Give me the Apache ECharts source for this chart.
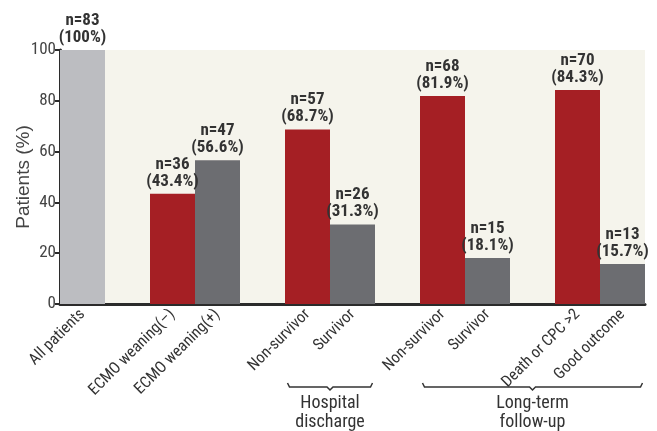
<!DOCTYPE html>
<html>
<head>
<meta charset="utf-8">
<script src="https://cdn.jsdelivr.net/npm/echarts@6/dist/echarts.min.js"></script>
<style>
  html, body { margin: 0; padding: 0; background: #fff; }
  #chart { width: 657px; height: 431px; }
</style>
</head>
<body>
<div id="chart"></div>
<script>
const categories = ["All patients", "", "ECMO weaning(\u2013)", "ECMO weaning(+)", "",
  "Non-survivor", "Survivor", "", "Non-survivor", "Survivor", "", "Death or CPC >2", "Good outcome"];
// percent of patients per slot (null = spacer)
const percents = [100, null, 43.4, 56.6, null, 68.7, 31.3, null, 81.9, 18.1, null, 84.3, 15.7];
const counts   = [83, null, 36, 47, null, 57, 26, null, 68, 15, null, 70, 13];
const pctText  = ["100%", "", "43.4%", "56.6%", "", "68.7%", "31.3%", "", "81.9%", "18.1%", "", "84.3%", "15.7%"];
const kinds    = ["all", "", "bad", "good", "", "bad", "good", "", "bad", "good", "", "bad", "good"];
const groups = [
  { name: "Hospital\ndischarge", from: 5, to: 6 },
  { name: "Long-term\nfollow-up", from: 8, to: 12 }
];
const yTicks = [0, 20, 40, 60, 80, 100];

const FONT = "'Roboto Condensed', 'Open Sans Condensed', 'DejaVu Sans Condensed', sans-serif";
const kindColor = { all: "#bcbdc1", bad: "#a51f24", good: "#6c6d71" };

const chart = echarts.init(document.getElementById("chart"), null, { renderer: "canvas" });

chart.setOption({
  animation: false,
  grid: {
    left: 60, right: 12, top: 50, bottom: 127, containLabel: false, outerBoundsMode: "none",
    show: true, backgroundColor: "#f5f4ec", borderWidth: 0
  },
  xAxis: {
    type: "category", data: categories,
    axisLine: { lineStyle: { color: "#2b2b2b", width: 3 } },
    axisTick: { show: false },
    axisLabel: { interval: 0, rotate: 45, margin: 8, color: "#333", fontSize: 16, fontFamily: FONT }
  },
  yAxis: {
    type: "value", min: yTicks[0], max: yTicks[yTicks.length - 1], interval: 20,
    name: "Patients (%)", nameLocation: "middle", nameGap: 27, nameMoveOverlap: false,
    nameTextStyle: { color: "#444", fontSize: 19, fontFamily: "'Liberation Sans', sans-serif" },
    axisLine: { show: true, lineStyle: { color: "#2b2b2b", width: 3 } },
    axisTick: { show: true, length: 5, lineStyle: { color: "#2b2b2b", width: 2 } },
    axisLabel: { color: "#444", fontSize: 17, margin: 4, fontFamily: FONT },
    splitLine: { show: false }
  },
  series: [{
    type: "bar", barWidth: 45,
    data: percents.map((v, i) => ({ value: v, itemStyle: { color: kindColor[kinds[i]] || "#999" } })),
    label: {
      show: true, position: "top", distance: 4,
      color: "#333", fontSize: 17, fontWeight: "bold", lineHeight: 17, fontFamily: FONT,
      formatter: p => counts[p.dataIndex] == null ? "" : "n=" + counts[p.dataIndex] + "\n(" + pctText[p.dataIndex] + ")"
    }
  }]
});

// group brackets under the axis labels
const graphics = [];
const half = 22;
const by = 387;
groups.forEach(g => {
  const x1 = chart.convertToPixel({ xAxisIndex: 0 }, g.from) - half + 2;
  const x2 = chart.convertToPixel({ xAxisIndex: 0 }, g.to) + half - 2;
  const cx = (x1 + x2) / 2;
  graphics.push({
    type: "polyline",
    shape: { points: [[x1, by - 4], [x1 + 2, by], [cx - 3, by], [cx, by + 3], [cx + 3, by], [x2 - 2, by], [x2, by - 4]] },
    style: { stroke: "#333", lineWidth: 1.5, fill: null }
  });
  graphics.push({
    type: "text", x: cx, y: by + 7,
    style: { text: g.name, fill: "#333", fontSize: 18, lineHeight: 19, fontFamily: FONT, align: "center", verticalAlign: "top" }
  });
});
chart.setOption({ graphic: graphics });
</script>
</body>
</html>
